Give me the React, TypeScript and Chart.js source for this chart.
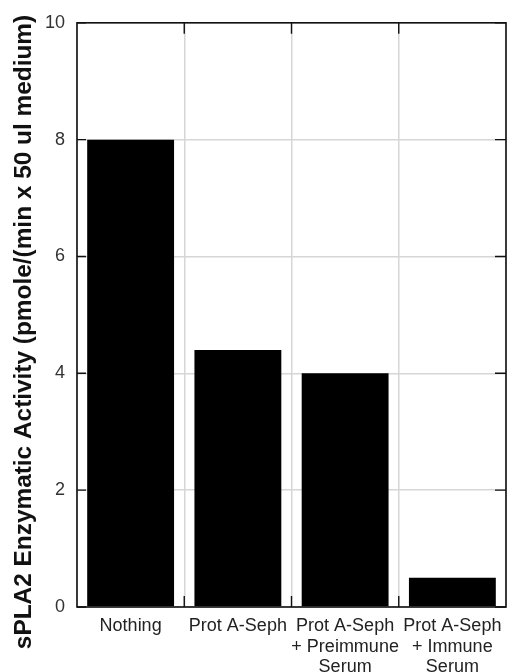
import React, { useEffect, useRef } from "react";
import { Chart, registerables } from "chart.js";
Chart.register(...registerables);

const categories: string[][] = [
  ["Nothing"],
  ["Prot A-Seph"],
  ["Prot A-Seph", "+ Preimmune", "Serum"],
  ["Prot A-Seph", "+ Immune", "Serum"],
];
const activity: number[] = [8.0, 4.4, 4.0, 0.5];
const yTitle = "sPLA2 Enzymatic Activity (pmole/(min x 50 ul medium)";

const FONT = "Liberation Sans, Arial, Helvetica, sans-serif";

const framePlugin = {
  id: "frameTicks",
  afterDatasetsDraw(chart: any) {
    const { ctx, chartArea: a, scales } = chart;
    const x = scales.x;
    const y = scales.y;
    ctx.save();
    ctx.strokeStyle = "#111";
    ctx.lineWidth = 1.6;
    ctx.strokeRect(a.left, a.top, a.right - a.left, a.bottom - a.top);
    ctx.lineWidth = 1.4;
    ctx.beginPath();
    y.ticks.forEach((t: any) => {
      const py = y.getPixelForValue(t.value);
      ctx.moveTo(a.left, py);
      ctx.lineTo(a.left + 9, py);
      ctx.moveTo(a.right, py);
      ctx.lineTo(a.right - 11, py);
    });
    for (let i = 1; i < categories.length; i++) {
      const px = (x.getPixelForValue(i - 1) + x.getPixelForValue(i)) / 2;
      ctx.moveTo(px, a.top);
      ctx.lineTo(px, a.top + 11);
      ctx.moveTo(px, a.bottom);
      ctx.lineTo(px, a.bottom - 11);
    }
    ctx.stroke();
    // y-axis title
    ctx.translate(24, 332);
    ctx.rotate(-Math.PI / 2);
    ctx.fillStyle = "#111";
    ctx.font = `bold 24.4px ${FONT}`;
    ctx.textAlign = "center";
    ctx.textBaseline = "middle";
    ctx.fillText(yTitle, 0, 0);
    ctx.restore();
  },
};

export default function App() {
  const ref = useRef<HTMLCanvasElement>(null);
  useEffect(() => {
    const chart = new Chart(ref.current!, {
      type: "bar",
      data: {
        labels: categories,
        datasets: [
          {
            data: activity,
            backgroundColor: "#000",
            borderWidth: 0,
            barPercentage: 0.81,
            categoryPercentage: 1.0,
          },
        ],
      },
      options: {
        animation: false,
        responsive: false,
        maintainAspectRatio: false,
        layout: { padding: { top: 22, right: 10, left: 0, bottom: 0 } },
        plugins: { legend: { display: false }, tooltip: { enabled: false } },
        scales: {
          x: {
            grid: { color: "#d6d6d6", lineWidth: 1.5, drawTicks: false, offset: true },
            border: { display: false },
            ticks: {
              color: "#222",
              font: { family: FONT, size: 18, lineHeight: 1.14 },
              padding: 9,
              maxRotation: 0,
              autoSkip: false,
            },
            afterFit(s: any) {
              s.height = 65;
            },
          },
          y: {
            min: 0,
            max: 10,
            ticks: {
              stepSize: 2,
              color: "#333",
              font: { family: FONT, size: 18 },
              padding: 12,
            },
            grid: { color: "#d6d6d6", lineWidth: 1.5, drawTicks: false },
            border: { display: false },
            afterFit(s: any) {
              s.width = 77;
            },
          },
        },
      },
      plugins: [framePlugin],
    });
    return () => chart.destroy();
  }, []);
  return (
    <div style={{ position: "fixed", left: 0, top: 0, width: 516, height: 672, background: "#fff" }}>
      <canvas ref={ref} width={516} height={672} style={{ width: 516, height: 672 }} />
    </div>
  );
}
